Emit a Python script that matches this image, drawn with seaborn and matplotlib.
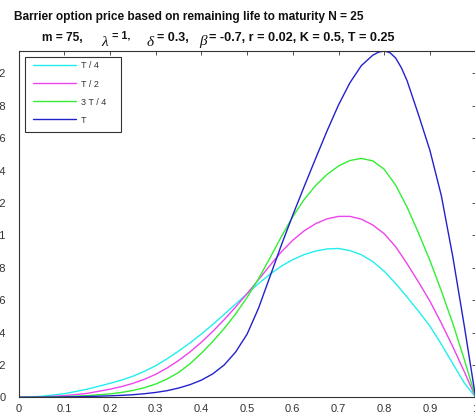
"""Barrier option price against remaining life to maturity, four horizons."""

import matplotlib.pyplot as plt
import pandas as pd
import seaborn as sns
from matplotlib.patches import Rectangle
from matplotlib.ticker import FuncFormatter

# remaining life to maturity (fraction of T)
life = [0, 0.05, 0.1, 0.15, 0.2, 0.225, 0.25, 0.275, 0.3, 0.325, 0.35, 0.375,
        0.4, 0.425, 0.45, 0.475, 0.5, 0.525, 0.55, 0.575, 0.6, 0.625, 0.65,
        0.675, 0.7, 0.725, 0.75, 0.775, 0.8, 0.825, 0.85, 0.875, 0.9, 0.925,
        0.95, 0.975, 1.0]
# the T curve is read a little closer around its peak
life_full = [0, 0.05, 0.1, 0.15, 0.2, 0.225, 0.25, 0.275, 0.3, 0.325, 0.35,
             0.375, 0.4, 0.425, 0.45, 0.475, 0.5, 0.525, 0.55, 0.575, 0.6,
             0.625, 0.65, 0.675, 0.7, 0.725, 0.75, 0.775, 0.7875, 0.8, 0.8125,
             0.825, 0.8375, 0.85, 0.875, 0.9, 0.925, 0.95, 0.975, 1.0]

price_quarter = [0, 0.0006, 0.0022, 0.0050, 0.0086, 0.0106, 0.0130, 0.0160,
                 0.0195, 0.0238, 0.0285, 0.0336, 0.0391, 0.0450, 0.0512,
                 0.0576, 0.0640, 0.0702, 0.0760, 0.0810, 0.0850, 0.0881,
                 0.0903, 0.0916, 0.0919, 0.0906, 0.0880, 0.0838, 0.0778,
                 0.0703, 0.0619, 0.0532, 0.0440, 0.0328, 0.0208, 0.0090, 0.0]
price_half = [0, 0.0002, 0.0010, 0.0024, 0.0050, 0.0066, 0.0086, 0.0111,
              0.0142, 0.0181, 0.0227, 0.0280, 0.0340, 0.0407, 0.0480, 0.0558,
              0.0640, 0.0726, 0.0814, 0.0898, 0.0970, 0.1028, 0.1072, 0.1102,
              0.1117, 0.1117, 0.1100, 0.1064, 0.1010, 0.0930, 0.0825, 0.0712,
              0.0594, 0.0458, 0.0313, 0.0160, 0.0]
price_three_q = [0, 0.0001, 0.0004, 0.0010, 0.0021, 0.0030, 0.0042, 0.0059,
                 0.0082, 0.0113, 0.0153, 0.0207, 0.0272, 0.0345, 0.0425,
                 0.0515, 0.0617, 0.0732, 0.0860, 0.0992, 0.1115, 0.1222,
                 0.1308, 0.1376, 0.1428, 0.1462, 0.1475, 0.1460, 0.1408,
                 0.1310, 0.1175, 0.1015, 0.0845, 0.0657, 0.0457, 0.0236, 0.0]
price_full = [0, 0.00005, 0.0002, 0.0005, 0.0009, 0.0012, 0.0016, 0.0022,
              0.0030, 0.0041, 0.0057, 0.0078, 0.0106, 0.0145, 0.0200, 0.0280,
              0.0390, 0.0550, 0.0745, 0.0940, 0.1125, 0.1302, 0.1475, 0.1645,
              0.1805, 0.1942, 0.2048, 0.2112, 0.2131, 0.2138, 0.2128, 0.2095,
              0.2035, 0.1955, 0.1745, 0.1525, 0.1245, 0.0870, 0.0445, 0.0]

series_labels = ["T / 4", "T / 2", "3 T / 4", "T"]
series_colors = ["#22eeee", "#ee44ee", "#33ee33", "#2222cc"]
x_ticks = [0, 0.1, 0.2, 0.3, 0.4, 0.5, 0.6, 0.7, 0.8, 0.9, 1]
y_ticks = [0, 0.02, 0.04, 0.06, 0.08, 0.1, 0.12, 0.14, 0.16, 0.18, 0.2]

W, H = 475, 419
INK = "#333333"


def fig_xy(px, py):
    return px / W, 1 - py / H


def build_frame():
    curves = [(life, price_quarter), (life, price_half),
              (life, price_three_q), (life_full, price_full)]
    frames = []
    for label, (xs, ys) in zip(series_labels, curves):
        frames.append(pd.DataFrame({"life": xs, "price": ys, "series": label}))
    return pd.concat(frames, ignore_index=True)


def add_title(fig):
    bold = dict(fontsize=8.6, fontweight="bold", color="#111111", va="baseline")
    greek = dict(fontsize=11, family="Liberation Serif", style="italic",
                 color="#111111", va="baseline")
    fig.text(*fig_xy(14, 20),
             "Barrier option price based on remaining life to maturity N = 25", **bold)
    fig.text(*fig_xy(42, 41), "m = 75,", **bold)
    fig.text(*fig_xy(101, 46), "\u03bb", **greek)
    fig.text(*fig_xy(112, 39), "= 1,", **{**bold, "fontsize": 7.8})
    fig.text(*fig_xy(147, 46), "\u03b4", **greek)
    fig.text(*fig_xy(157, 41), "= 0.3,", **{**bold, "fontsize": 9.0})
    fig.text(*fig_xy(199, 45), "\u03b2", **greek)
    fig.text(*fig_xy(209, 41), "= -0.7, r = 0.02, K = 0.5, T = 0.25",
             **{**bold, "fontsize": 9.1})


def main():
    sns.set_theme(style="white")
    plt.rcParams["font.family"] = ["Liberation Sans", "DejaVu Sans"]

    fig = plt.figure(figsize=(W / 100, H / 100), dpi=100)
    ax = fig.add_axes([18.6 / W, (H - 397.3) / H, 457 / W, 346.6 / H])

    sns.lineplot(data=build_frame(), x="life", y="price", hue="series",
                 hue_order=series_labels, palette=series_colors,
                 estimator=None, sort=False, linewidth=1.0, ax=ax)

    ax.set_xlim(0, 1)
    ax.set_ylim(0, 0.214)
    ax.set_xticks(x_ticks)
    ax.set_yticks(y_ticks)
    ax.xaxis.set_major_formatter(FuncFormatter(lambda v, _: f"{v:g}"))
    ax.yaxis.set_major_formatter(FuncFormatter(lambda v, _: f"{v:g}"))
    ax.set_xlabel("")
    ax.set_ylabel("")
    ax.tick_params(direction="in", length=3, width=0.6, color=INK,
                   labelsize=8, labelcolor=INK, top=True, right=True)
    ax.tick_params(axis="x", pad=5)
    ax.tick_params(axis="y", pad=9)
    for spine in ax.spines.values():
        spine.set_color(INK)
        spine.set_linewidth(0.8)

    ax.legend(loc="upper left", bbox_to_anchor=fig_xy(33.3, 61.5),
              bbox_transform=fig.transFigure, frameon=False, fontsize=6.5,
              borderpad=0, borderaxespad=0, handlelength=4.7,
              handletextpad=0.55, labelspacing=1.0, labelcolor=INK)
    x0, y0 = fig_xy(25, 132)
    x1, y1 = fig_xy(121, 57)
    fig.add_artist(Rectangle((x0, y0), x1 - x0, y1 - y0, transform=fig.transFigure,
                             fill=False, edgecolor=INK, linewidth=0.8))

    add_title(fig)
    fig.savefig("out.png", dpi=100)
    plt.close(fig)


if __name__ == "__main__":
    main()
